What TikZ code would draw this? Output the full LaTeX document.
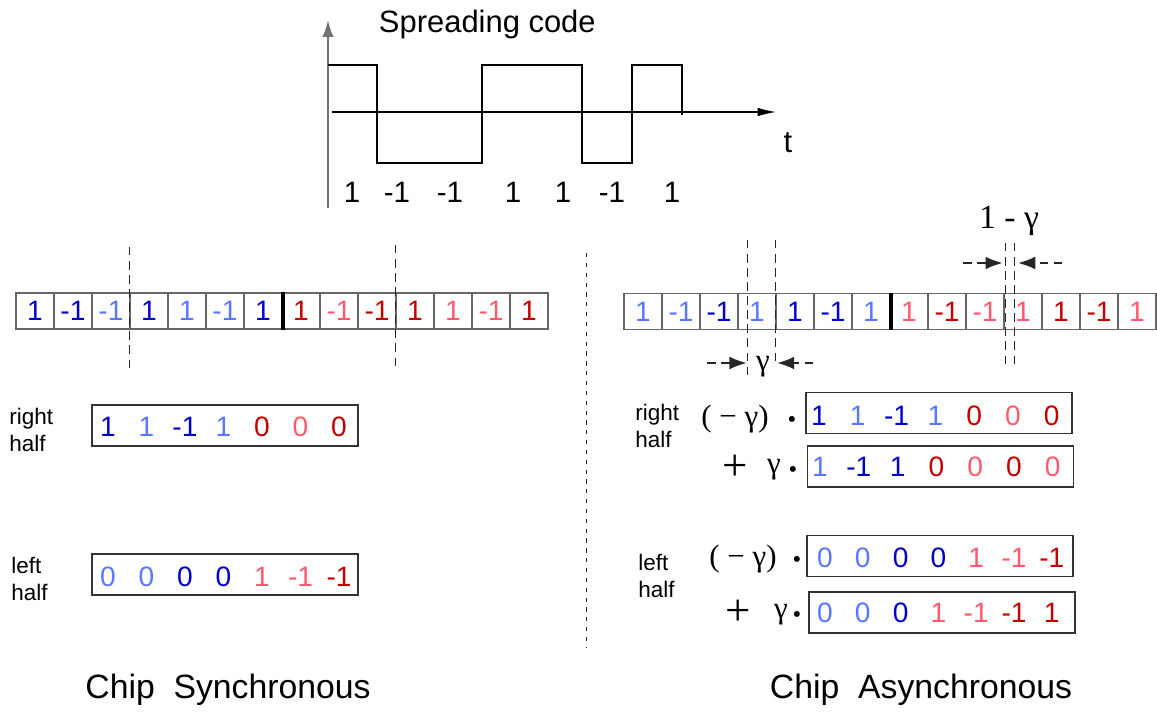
\documentclass[tikz,border=0pt]{standalone}
\usepackage{fontspec}
\setmainfont{Liberation Sans}
\newfontfamily\serifgr{Liberation Serif}
\usetikzlibrary{arrows.meta,calc,positioning}
\definecolor{koyuMavi}{HTML}{0000CC}
\definecolor{acikMavi}{HTML}{5A78FF}
\definecolor{koyuKirmizi}{HTML}{C40000}
\definecolor{acikKirmizi}{HTML}{FF5A6E}

\begin{document}
\begin{tikzpicture}[x=0.025cm,y=-0.025cm,
  cell/.style={draw=black!60,line width=0.9pt,minimum width=0.95cm,minimum height=0.9cm,
    inner sep=0pt,font=\fontsize{20}{24}\selectfont},
  vecbox/.style={draw=black!80,line width=0.9pt,minimum width=6.65cm,minimum height=1.02cm,inner sep=0pt},
  num/.style={inner sep=0pt,font=\fontsize{20}{24}\selectfont},
  cut/.style={black!85,line width=0.8pt,dash pattern=on 6pt off 4pt},
  dim/.style={black!85,line width=0.8pt,dash pattern=on 6pt off 4pt,-{Latex[length=12pt,width=9pt]}},
  halfname/.style={anchor=west,align=left,inner sep=0pt,font=\fontsize{16}{19}\selectfont},
  weight/.style={inner sep=0pt,font=\serifgr\fontsize{22}{26}\selectfont},
  plus/.style={inner sep=0pt,font=\serifgr\fontsize{32}{36}\selectfont},
  dot/.style={inner sep=0pt,font=\serifgr\bfseries\fontsize{26}{30}\selectfont},
  caption/.style={font=\fontsize{24}{28}\selectfont}]
\useasboundingbox (0,0) rectangle (1157,713);

% spreading code waveform
\draw[black!55,line width=1.4pt,-{Latex[length=12pt,width=8pt]}] (328,208) -- (328,20);
\draw[line width=0.8pt,-{Latex[length=13pt,width=6pt]}] (332,112) -- (776,112);
\draw[line width=2pt] (328,65) -- (377,65) -- (377,163) -- (482,163) -- (482,65) -- (582,65)
  -- (582,163) -- (632,163) -- (632,65) -- (682,65) -- (682,115);
\node[anchor=west,font=\fontsize{22}{26}\selectfont] (title) at (374,24) {Spreading code};
\node[font=\fontsize{22}{26}\selectfont] (tlab) at (788,143) {t};
\foreach \v/\px [count=\i] in {1/352,-1/397,-1/450,1/513,1/563,-1/612,1/672}
  \node[num,font=\fontsize{21}{25}\selectfont] (code\i) at (\px,192) {\v};

% chip synchronous
\foreach \v/\c [count=\i from 0] in {1/koyuMavi,-1/koyuMavi,-1/acikMavi,1/koyuMavi,1/acikMavi,-1/acikMavi,1/koyuMavi,
    1/koyuKirmizi,-1/acikKirmizi,-1/koyuKirmizi,1/koyuKirmizi,1/acikKirmizi,-1/acikKirmizi,1/koyuKirmizi}
  \node[cell,text=\c] (sl\i) at ({35+38*\i},311) {\v};
\draw[line width=2.8pt] (sl6.north east) -- (sl6.south east);
\draw[cut] (sl3.west |- 0,247) -- (sl3.west |- 0,373);
\draw[cut] (sl10.west |- 0,245) -- (sl10.west |- 0,371);

\node[halfname] (rhname) at (9,430) {right\\half};
\node[vecbox] (rhS) at (225,425.5) {};
\foreach \v/\c [count=\i from 0] in {1/koyuMavi,1/acikMavi,-1/koyuMavi,1/acikMavi,0/koyuKirmizi,0/acikKirmizi,0/koyuKirmizi}
  \node[num,text=\c] (rhS\i) at ({108+38.5*\i},427) {\v};

\node[halfname] (lhname) at (11,579) {left\\half};
\node[vecbox] (lhS) at (225,574.5) {};
\foreach \v/\c [count=\i from 0] in {0/acikMavi,0/acikMavi,0/koyuMavi,0/koyuMavi,1/acikKirmizi,-1/acikKirmizi,-1/koyuKirmizi}
  \node[num,text=\c] (lhS\i) at ({108+38.5*\i},577) {\v};

\node[caption] (sync) at (228,690) {Chip\ \ Synchronous};

% separator
\draw[black!85,line width=0.7pt,dash pattern=on 3pt off 4pt] (586,253) -- (586,647);

% chip asynchronous
\foreach \v/\c [count=\i from 0] in {1/acikMavi,-1/acikMavi,-1/koyuMavi,1/acikMavi,1/koyuMavi,-1/koyuMavi,1/acikMavi,
    1/acikKirmizi,-1/koyuKirmizi,-1/acikKirmizi,1/acikKirmizi,1/koyuKirmizi,-1/koyuKirmizi,1/acikKirmizi}
  \node[cell,text=\c] (sr\i) at ({643+38*\i},311.5) {\v};
\draw[line width=2.8pt] (sr6.north east) -- (sr6.south east);

% shift gamma
\coordinate (ga) at ($(sr3.west)+(10,0)$);
\coordinate (gb) at (sr4.west);
\draw[cut] (ga |- 0,240) -- (ga |- 0,375);
\draw[cut] (gb |- 0,240) -- (gb |- 0,366);
\coordinate (gl) at ($(ga |- 0,363)+(-1,0)$);
\coordinate (gr) at ($(gb |- 0,363)+(2,0)$);
\draw[dim] ($(gl)+(-39,0)$) -- (gl);
\draw[dim] ($(gr)+(36,0)$) -- (gr);
\node[weight] (gam) at (763,367) {γ};

% shift 1-gamma
\coordinate (oa) at ($(sr10.west)+(2,0)$);
\coordinate (ob) at ($(sr10.west)+(11,0)$);
\draw[cut] (oa |- 0,243) -- (oa |- 0,368);
\draw[cut] (ob |- 0,243) -- (ob |- 0,368);
\coordinate (ol) at ($(oa |- 0,263)+(-3,0)$);
\coordinate (or) at ($(ob |- 0,263)+(4,0)$);
\draw[dim] ($(ol)+(-39,0)$) -- (ol);
\draw[dim] ($(or)+(44,0)$) -- (or);
\node[weight,font=\serifgr\fontsize{24}{28}\selectfont] (omg) at (1009,221) {1 - γ};

\node[halfname] (rhname2) at (635,426) {right\\half};
\node[weight] (rhw1) at (735,419) {( − γ)};
\node[dot] (rhd1) at (792,424) {·};
\node[vecbox] (rhA1) at (939,413) {};
\foreach \v/\c [count=\i from 0] in {1/koyuMavi,1/acikMavi,-1/koyuMavi,1/acikMavi,0/koyuKirmizi,0/acikKirmizi,0/koyuKirmizi}
  \node[num,text=\c] (rhA1\i) at ({819+38.8*\i},416) {\v};
\node[plus] (rhp2) at (735,468) {+};
\node[weight] (rhw2) at (774,470) {γ};
\node[dot] (rhd2) at (793,474) {·};
\node[vecbox] (rhA2) at (940.5,466.5) {};
\foreach \v/\c [count=\i from 0] in {1/acikMavi,-1/koyuMavi,1/koyuMavi,0/koyuKirmizi,0/acikKirmizi,0/koyuKirmizi,0/acikKirmizi}
  \node[num,text=\c] (rhA2\i) at ({820+38.8*\i},467) {\v};

\node[halfname] (lhname2) at (638,576) {left\\half};
\node[weight] (lhw1) at (743,559) {( − γ)};
\node[dot] (lhd1) at (797,564) {·};
\node[vecbox] (lhA1) at (940,556) {};
\foreach \v/\c [count=\i from 0] in {0/acikMavi,0/acikMavi,0/koyuMavi,0/koyuMavi,1/acikKirmizi,-1/acikKirmizi,-1/koyuKirmizi}
  \node[num,text=\c] (lhA1\i) at ({825+37.8*\i},558) {\v};
\node[plus] (lhp2) at (738,613) {+};
\node[weight] (lhw2) at (781,615) {γ};
\node[dot] (lhd2) at (797,619) {·};
\node[vecbox] (lhA2) at (942,612.5) {};
\foreach \v/\c [count=\i from 0] in {0/acikMavi,0/acikMavi,0/koyuMavi,1/acikKirmizi,-1/acikKirmizi,-1/koyuKirmizi,1/koyuKirmizi}
  \node[num,text=\c] (lhA2\i) at ({825+37.8*\i},613) {\v};

\node[caption] (async) at (921,690) {Chip\ \ Asynchronous};
\end{tikzpicture}
\end{document}
